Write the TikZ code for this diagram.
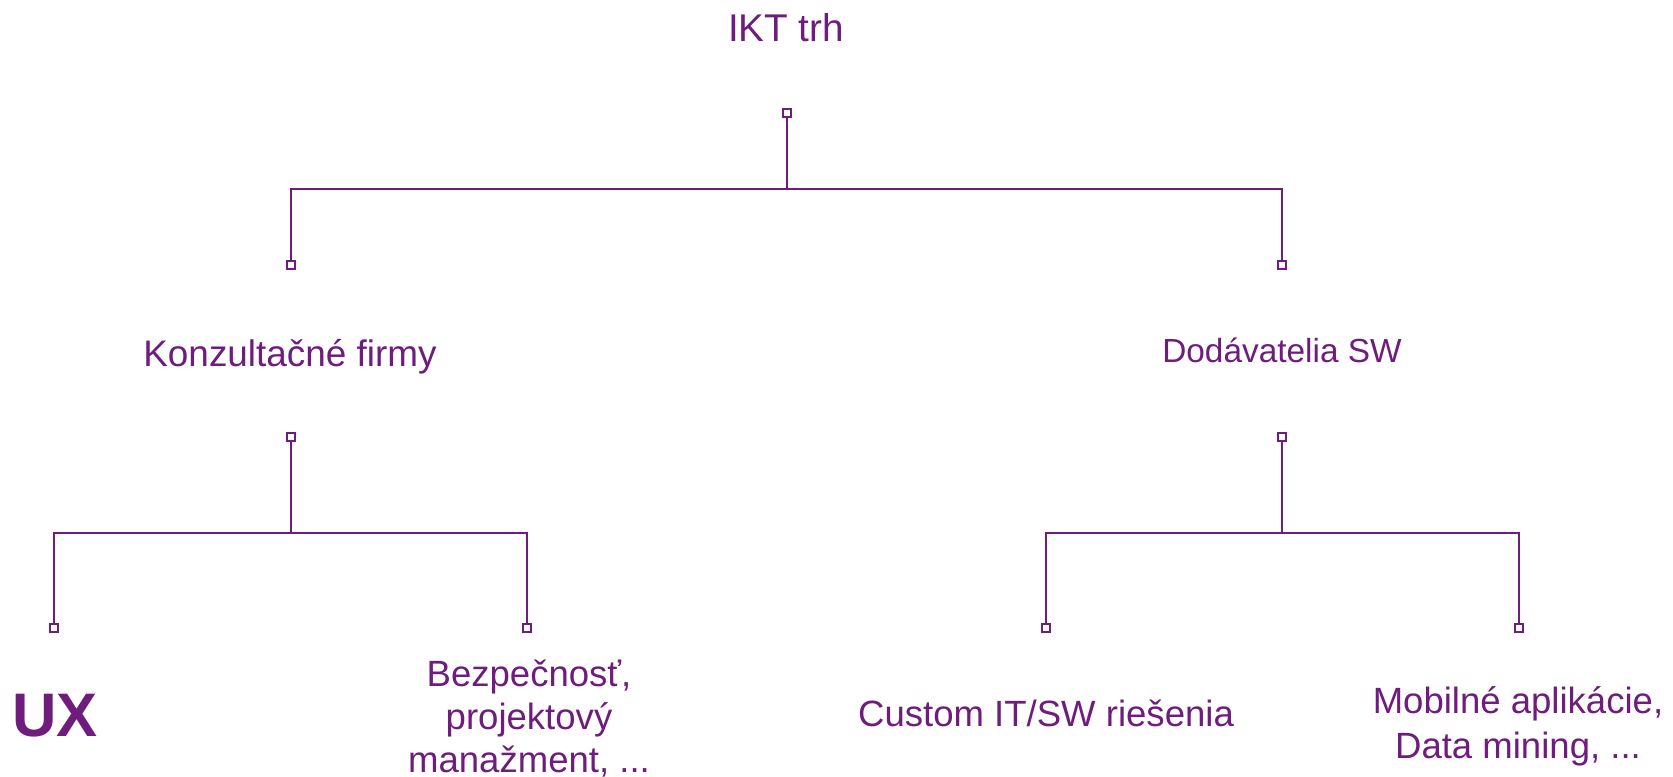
\documentclass[tikz,border=0pt]{standalone}
\usepackage{fontspec}
\setmainfont{Liberation Sans}
\usepackage{xcolor}
\usetikzlibrary{shapes,positioning,calc}
\definecolor{fialova}{RGB}{110,29,125}

\begin{document}
\begin{tikzpicture}[x=0.1mm,y=-0.1mm,
  txt/.style={text=fialova, anchor=base, inner sep=0pt, align=center, font=\fontsize{10.4}{12.8}\selectfont},
  uzol/.style={rectangle, draw=fialova, fill=white, line width=0.65pt, minimum size=0.75mm, inner sep=0pt},
  spoj/.style={draw=fialova, line width=0.65pt}]
\useasboundingbox (0,0) rectangle (1673,777);

\node[txt, font=\fontsize{11}{14}\selectfont] (ikt) at (786,42) {IKT trh};
\node[txt, font=\fontsize{10.5}{13}\selectfont] (konz) at (290,367) {Konzultačné firmy};
\node[txt, font=\fontsize{9.5}{12}\selectfont] (dod) at (1282,363) {Dodávatelia SW};
\node[txt, font=\fontsize{17.5}{20}\bfseries\selectfont] (ux) at (55,737) {UX};
\node[txt, anchor=north, font=\fontsize{10.4}{12.2}\selectfont] (bezp) at (529,659) {Bezpečnosť,\\projektový\\manažment, ...};
\node[txt] (cust) at (1046,727) {Custom IT/SW riešenia};
\node[txt, anchor=north] (mob) at (1518,686) {Mobilné aplikácie,\\Data mining, ...};

\node[uzol] (ikt-d) at (787,113) {};
\node[uzol] (konz-h) at (291,265) {};
\node[uzol] (dod-h) at (1282,265) {};
\node[uzol] (konz-d) at (291,437) {};
\node[uzol] (dod-d) at (1282,437) {};
\node[uzol] (ux-h) at (54,628) {};
\node[uzol] (bezp-h) at (527,628) {};
\node[uzol] (cust-h) at (1046,628) {};
\node[uzol] (mob-h) at (1519,628) {};

\coordinate (j1) at (787,189);
\coordinate (j2) at (291,533);
\coordinate (j3) at (1282,533);

\draw[spoj] (ikt-d) -- (j1) -| (konz-h);
\draw[spoj] (j1) -| (dod-h);
\draw[spoj] (konz-d) -- (j2) -| (ux-h);
\draw[spoj] (j2) -| (bezp-h);
\draw[spoj] (dod-d) -- (j3) -| (cust-h);
\draw[spoj] (j3) -| (mob-h);
\end{tikzpicture}
\end{document}
